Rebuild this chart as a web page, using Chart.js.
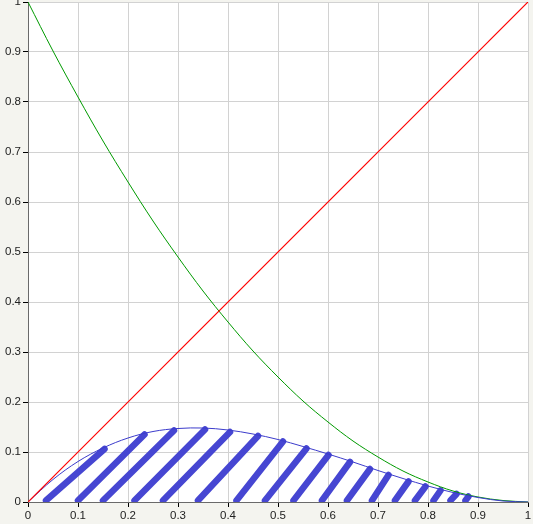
<!DOCTYPE html>
<html>
<head>
<meta charset="utf-8">
<script src="https://cdn.jsdelivr.net/npm/chart.js@4/dist/chart.umd.min.js"></script>
<style>
    html, body { margin: 0; padding: 0; background: #f4f4ef; }
    #wrap { width: 533px; height: 524px; }
</style>
</head>
<body>
<div id="wrap"><canvas id="myChart" width="533" height="524"></canvas></div>
<script>
// values
const xValues = [0, 0.05, 0.1, 0.15, 0.2, 0.25, 0.3, 0.35, 0.4, 0.45, 0.5,
    0.55, 0.6, 0.65, 0.7, 0.75, 0.8, 0.85, 0.9, 0.95, 1];
const greenValues = [1, 0.902, 0.81, 0.722, 0.64, 0.562, 0.49, 0.422, 0.36, 0.302, 0.25,
    0.202, 0.16, 0.122, 0.09, 0.062, 0.04, 0.022, 0.01, 0.003, 0];
const blueValues = [0, 0.045, 0.081, 0.108, 0.128, 0.141, 0.147, 0.148, 0.144, 0.136, 0.125,
    0.111, 0.096, 0.08, 0.063, 0.047, 0.032, 0.019, 0.009, 0.002, 0];
const redX = [0, 1];
const redValues = [0, 1];

// hatch strokes: from the x axis up to the blue curve
const hatchBottomX = [0.036, 0.1, 0.15, 0.213, 0.27, 0.34, 0.417, 0.474, 0.531, 0.588,
    0.638, 0.688, 0.734, 0.774, 0.811, 0.845, 0.875];
const hatchTopX = [0.153, 0.233, 0.292, 0.354, 0.404, 0.46, 0.51, 0.557, 0.601, 0.644,
    0.684, 0.721, 0.761, 0.795, 0.825, 0.857, 0.881];
const hatchTopY = [0.106, 0.135, 0.143, 0.145, 0.14, 0.132, 0.121, 0.107, 0.094, 0.08,
    0.066, 0.054, 0.041, 0.031, 0.023, 0.016, 0.011];

function points(xs, ys) {
    return xs.map((x, i) => ({x: x, y: ys[i]}));
}

const plotBackground = {
    id: "plotBackground",
    beforeDraw(chart) {
        const a = chart.chartArea;
        const ctx = chart.ctx;
        ctx.save();
        ctx.fillStyle = "#ffffff";
        ctx.fillRect(a.left, a.top, a.right - a.left, a.bottom - a.top);
        ctx.restore();
    }
};

function tickLabel(value) {
    return String(Math.round(value * 10) / 10);
}

function showChart() {
    const datasets = [];

    hatchBottomX.forEach((bx, i) => {
        datasets.push({
            data: [{x: bx, y: 0.003}, {x: hatchTopX[i], y: hatchTopY[i]}],
            borderColor: "#4646d2",
            borderWidth: 6.5,
            borderCapStyle: "round",
            pointRadius: 0,
            clip: 0,
            order: 5
        });
    });

    datasets.push({
        data: points(xValues, blueValues),
        borderColor: "#3c3ccc",
        borderWidth: 1,
        pointRadius: 0,
        tension: 0.35,
        order: 1
    });
    datasets.push({
        data: points(xValues, greenValues),
        borderColor: "#009a00",
        borderWidth: 1,
        pointRadius: 0,
        tension: 0.35,
        order: 1
    });
    datasets.push({
        label: "red",
        data: points(redX, redValues),
        borderColor: "rgb(255, 0, 0)",
        backgroundColor: "rgb(255, 0, 0)",
        borderWidth: 1.2,
        pointRadius: 0,
        order: 0
    });

    const tickFont = {family: "'Liberation Sans', Arial, sans-serif", size: 11.5};

    new Chart(document.getElementById("myChart"), {
        type: "line",
        data: {datasets: datasets},
        plugins: [plotBackground],
        options: {
            responsive: false,
            animation: false,
            layout: {padding: {top: 2, right: 5, left: 0, bottom: 0}},
            plugins: {
                legend: {display: false},
                tooltip: {enabled: false}
            },
            scales: {
                x: {
                    type: "linear",
                    min: 0,
                    max: 1,
                    ticks: {stepSize: 0.1, color: "#222", font: tickFont, padding: 2, maxRotation: 0, callback: tickLabel},
                    grid: {color: "#d2d2d2", tickColor: "#000", tickLength: 5},
                    border: {display: true, color: "#6a6a6a"},
                    afterFit(scale) {
                        scale.height = 22;
                        scale.paddingLeft = 0;
                        scale.paddingRight = 0;
                    }
                },
                y: {
                    type: "linear",
                    min: 0,
                    max: 1,
                    ticks: {stepSize: 0.1, color: "#222", font: tickFont, padding: 2, callback: tickLabel},
                    grid: {color: "#d2d2d2", tickColor: "#000", tickLength: 5},
                    border: {display: true, color: "#6a6a6a"},
                    afterFit(scale) {
                        scale.width = 28;
                        scale.paddingTop = 0;
                        scale.paddingBottom = 0;
                    }
                }
            }
        }
    });
}

document.addEventListener("DOMContentLoaded", showChart);
</script>
</body>
</html>
